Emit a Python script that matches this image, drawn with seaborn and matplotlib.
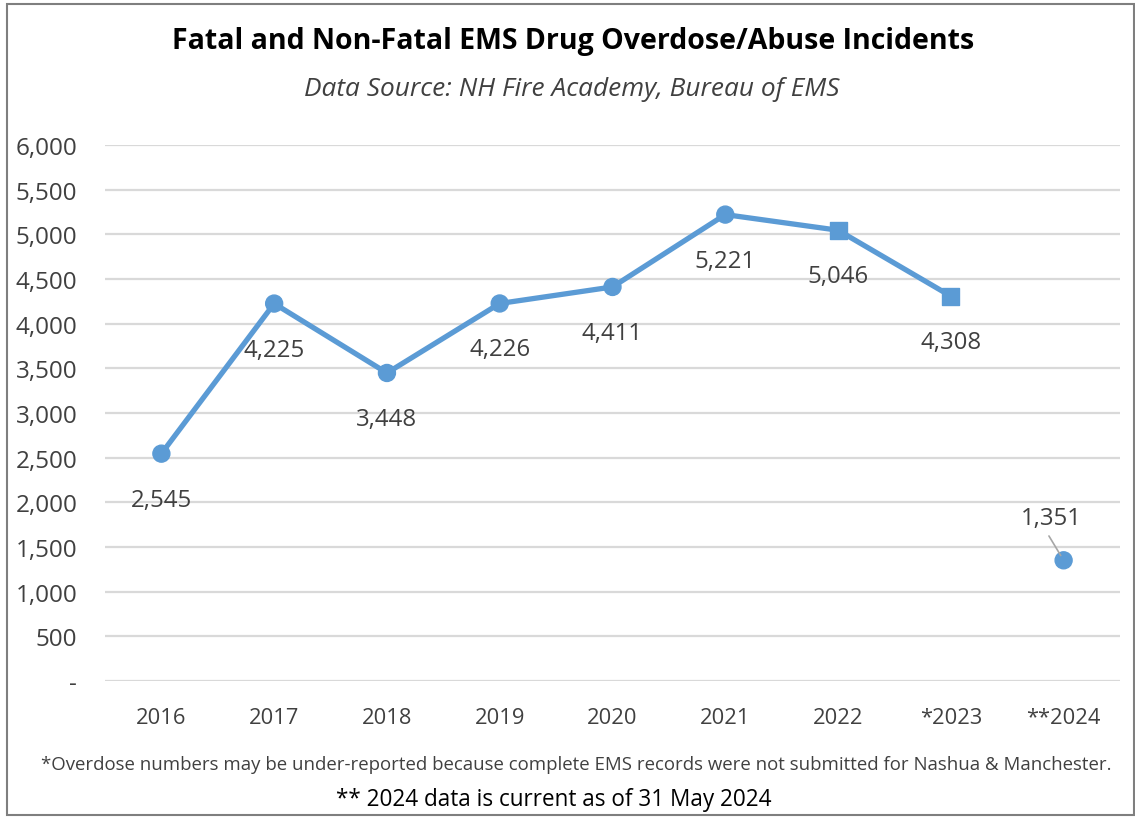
import matplotlib
matplotlib.use("Agg")
import matplotlib.pyplot as plt
from matplotlib import font_manager
from matplotlib.patches import Rectangle
from matplotlib.ticker import FuncFormatter
import seaborn as sns
import pandas as pd

# ---------------- data ----------------
years = ["2016", "2017", "2018", "2019", "2020", "2021", "2022", "*2023", "**2024"]
incidents = [2545, 4225, 3448, 4226, 4411, 5221, 5046, 4308, 1351]
marker_kind = ["circle", "circle", "circle", "circle", "circle", "circle", "square", "square", "circle"]
connected = [True, True, True, True, True, True, True, True, False]
y_ticks = [0, 500, 1000, 1500, 2000, 2500, 3000, 3500, 4000, 4500, 5000, 5500, 6000]

title = "Fatal and Non-Fatal EMS Drug Overdose/Abuse Incidents"
subtitle = "Data Source: NH Fire Academy, Bureau of EMS"
note1 = "*Overdose numbers may be under-reported because complete EMS records were not submitted for Nashua & Manchester."
note2 = "** 2024 data is current as of 31 May 2024"

df = pd.DataFrame({"year": years, "value": incidents, "marker": marker_kind,
                   "connected": connected})
df["pos"] = range(len(df))

# ---------------- style ----------------
sns.set_theme(style="white")
names = {f.name for f in font_manager.fontManager.ttflist}
font = next(n for n in ["Liberation Sans Narrow", "Open Sans", "DejaVu Sans"] if n in names)
plt.rcParams["font.family"] = [font, "DejaVu Sans"]

BLUE = "#5B9BD5"
GRID = "#D9D9D9"
TXT = "#404040"

W, H = 1135, 820
fig = plt.figure(figsize=(W / 100, H / 100), dpi=100)
fig.patch.set_facecolor("white")
ax = fig.add_axes([105 / W, 1 - 682 / H, (1120 - 105) / W, (682 - 146) / H])

line_df = df[df["connected"]]
sns.lineplot(data=line_df, x="pos", y="value", ax=ax, color=BLUE, lw=3.8,
             solid_capstyle="round", zorder=2)
sns.scatterplot(data=df, x="pos", y="value", style="marker",
                markers={"circle": "o", "square": "s"}, color=BLUE,
                edgecolor=BLUE, s=150, ax=ax, legend=False, zorder=3)

ax.set_xlim(-0.5, len(years) - 0.5)
ax.set_ylim(0, 6000)
ax.set_yticks(y_ticks)
ax.yaxis.set_major_formatter(FuncFormatter(lambda v, p: "-" if v == 0 else f"{int(v):,}"))
ax.set_xticks(df["pos"])
ax.set_xticklabels(years)
ax.grid(axis="y", color=GRID, lw=1.6)
ax.grid(axis="x", visible=False)
ax.set_axisbelow(True)
for s in ax.spines.values():
    s.set_visible(False)
ax.set_xlabel("")
ax.set_ylabel("")

renderer = fig.canvas.get_renderer()


def fit(t, target):
    w = t.get_window_extent(renderer).width
    t.set_fontsize(t.get_fontsize() * target / w)
    return t.get_fontsize()


# measure tick / label font sizes
probe = fig.text(0, 0, "6,000", fontsize=10)
tick_fs = fit(probe, 62)
probe.set_text("2016")
probe.set_fontsize(10)
xtick_fs = fit(probe, 50)
probe.set_text("2,545")
probe.set_fontsize(10)
lab_fs = fit(probe, 61)
probe.remove()

ax.tick_params(axis="y", labelsize=tick_fs, colors=TXT, length=0, pad=20)
ax.tick_params(axis="x", labelsize=xtick_fs, colors=TXT, length=0, pad=19)

for _, r in df.iterrows():
    if r["year"] == "**2024":
        ax.annotate(f"{r['value']:,}", xy=(r["pos"], r["value"]),
                    xytext=(-12, 42), textcoords="offset pixels",
                    ha="center", va="center", fontsize=lab_fs, color=TXT,
                    arrowprops=dict(arrowstyle="-", color="#A6A6A6", lw=1.2,
                                    shrinkA=2, shrinkB=4, relpos=(0.4, 0)))
    else:
        ax.annotate(f"{r['value']:,}", xy=(r["pos"], r["value"]),
                    xytext=(0, -46), textcoords="offset pixels",
                    ha="center", va="center", fontsize=lab_fs, color=TXT)

t1 = fig.text(573 / W, 1 - 42 / H, title, ha="center", va="center",
              fontweight="bold", color="black", fontsize=20)
fit(t1, 803)
t2 = fig.text(572 / W, 1 - 90 / H, subtitle, ha="center", va="center",
              fontstyle="italic", color=TXT, fontsize=16)
fit(t2, 535)
n1 = fig.text(576 / W, 1 - 765 / H, note1, ha="center", va="center",
              color=TXT, fontsize=14)
fit(n1, 1073)
n2 = fig.text(554 / W, 1 - 800 / H, note2, ha="center", va="center",
              color="black", fontsize=14)
fit(n2, 438)

fig.patches.append(Rectangle((7 / W, 4 / H), (1134 - 7) / W, (815 - 4) / H,
                             transform=fig.transFigure, fill=False,
                             edgecolor="#7F7F7F", lw=1.5))

fig.savefig("out.png", dpi=100)
